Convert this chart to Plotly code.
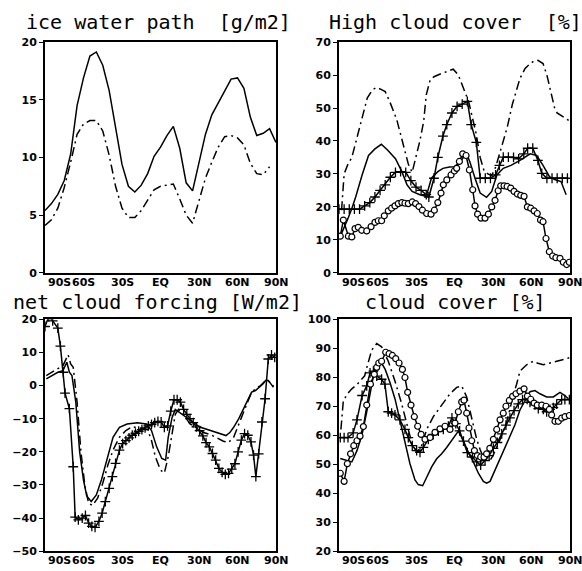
import plotly.graph_objects as go

# ---------------- data ----------------
X_TICKS = [-90, -60, -30, 0, 30, 60, 90]
X_TICK_TEXT = ["90S", "60S", "30S", "EQ", "30N", "60N", "90N"]

# Panel 1: ice water path [g/m2]
IWP_LAT_A = [-90,-85,-80,-75,-70,-65,-60,-55,-50,-45,-40,-35,-30,-25,-20,-15,-10,-5,0,5,10,15,20,25,30,35,40,45,50,55,60,65,70,75,80,85,90]
IWP_SOLID = [5.4,6.0,6.8,8.0,10.3,14.5,16.9,18.8,19.15,18.0,15.8,12.6,9.4,7.5,7.0,7.6,8.6,10.1,10.9,11.9,12.7,10.8,7.8,7.1,9.6,12.0,13.7,14.7,15.7,16.8,16.9,16.0,13.5,11.9,12.1,12.5,11.3]
IWP_LAT_B = [-90,-85,-80,-75,-70,-65,-60,-55,-50,-45,-40,-35,-30,-25,-20,-15,-10,-5,0,5,10,15,20,25,30,35,40,45,50,55,60,65,70,75,80,85]
IWP_DASHDOT = [4.1,4.6,5.6,7.4,9.6,12.0,12.9,13.2,13.2,12.3,10.2,7.5,5.6,4.8,4.8,5.4,6.3,7.2,7.5,7.6,7.7,6.4,5.0,4.3,6.2,8.2,9.6,10.9,11.8,11.9,11.7,11.1,9.5,8.6,8.5,9.2]

# Panel 2: high cloud cover [%]
HCC_LAT_SOLID = [-89,-86,-83,-80,-77,-72,-67,-62,-57,-52,-46,-41,-37,-33,-27,-22,-18,-13,-9,-4,0,4,8,10,12,16,20,25,29,33,38,44,51,59,64,69,74,78,83,87]
HCC_SOLID = [11,13.5,16.5,19.5,23,29.7,35.6,37.6,39,37.2,34.6,30.7,26.7,24.7,23.7,23.2,28.7,30.7,31.7,32.1,32.2,33.5,35.6,35.6,33.6,28.7,24.2,22.9,24.7,29.7,31.7,32.6,34.1,36.1,35.6,32.6,29.2,28.3,27.7,23.7]
HCC_LAT_DASHDOT = [-88,-86,-83,-80,-76,-72,-68,-64,-61,-58,-54,-50,-45,-40,-36,-33,-30,-27,-24,-22,-19,-16,-12,-8,-4,-1,3,7,11,14,17,20,23,26,29,32,36,41,45,51,55,59,62,65,69,72,75,78,80,84,87,90]
HCC_DASHDOT = [19,30,33,35,41,47,53,55.5,56.2,55.8,55,51.5,46.5,39,33,30.5,35,40,46,54,58.5,59.5,60.2,60.8,61.5,61.8,60,56,52,47,42,35,31,30,29.5,32,37,44,51,59,62,63.5,64.3,64.5,63.5,60,55,50,48.5,47.5,46.5,46]
HCC_LAT_PLUS = [-90,-86,-82,-78,-74,-70,-66,-62,-58,-54,-50,-46,-42,-38,-34,-30,-26,-22,-20,-16,-13,-9,-6,-2,2,6,10,13,17,20,24,28,32,35,38,42,46,50,54,57,61,65,68,72,76,80,84,88]
HCC_PLUS = [19.3,19.3,19.3,19.3,19.3,20.3,21.3,23,25,26.7,29,30.5,30.7,30.5,28,26,25,23.7,23,28.7,35,41.5,45,48.5,50.5,51.2,52,45,39.6,28.7,28.7,28.7,29.7,32.6,35.1,35.1,35,34.6,36.1,37.8,37.8,34.1,30.2,28.7,28.7,28.7,28.7,28.7]
HCC_LAT_CIRCLE = [-89,-86.6,-82.7,-80,-77.5,-75,-72.3,-68.4,-65,-62,-59.4,-56.8,-54.7,-51.6,-49,-46.4,-43.8,-41,-38.6,-36,-32.9,-30.3,-27.7,-25,-21.7,-18.3,-15.7,-13,-10.5,-8.7,-6,-2.7,-0.1,1.7,3.8,6.4,9,11.6,14.2,16,18,20.6,23.8,26.4,29,31.6,34,36,38.6,41,43.8,46.4,49,51.6,54.2,56.8,59.4,62,64.5,67,69,71.3,73.9,76.5,79,82.2,84.8,87.4,89.5]
HCC_CIRCLE = [11.1,16,11.1,10.9,13.4,13.8,12.9,12.7,14,15.3,15.8,15.8,17.3,18.8,19.6,20.3,21,21.3,21.1,21,21.5,21,20.1,19,18,17.8,19,21.3,24.2,26.7,28.2,29.7,30.9,31.7,33.8,36.1,35.6,31.2,25.2,20.3,17.8,16.6,16.6,17.8,20,22,24.9,26.4,26.4,26.2,25.7,24.7,23.9,23.5,23.2,20,19.6,18.8,18,16,15.5,10.4,6.4,5.1,4.6,4.4,3.2,2.5,3.2]

# Panel 3: net cloud forcing [W/m2]
NCF_LAT_SOLID = [-89,-85,-80,-76,-73,-71,-69,-66,-63,-60,-57.5,-54,-50,-46,-42,-37,-32,-26,-18,-11,-7,-3,1,4,6,9,11.5,15,20,26,31,36,41,46,51,54,57,61,64,67,71,74,77,80,82,84,86,88]
NCF_SOLID = [2.0,3.0,4.0,4.5,7.0,4.0,3.0,-5,-20,-28.5,-33.3,-35,-33,-28.4,-22.5,-15.6,-12.6,-11.6,-11.2,-11.6,-13.6,-18.5,-22,-22.5,-15.6,-9.7,-7.2,-8.2,-9.7,-11.2,-12.6,-13.2,-13.8,-14.6,-15.1,-14.2,-12.6,-10,-7.5,-5.2,-2,-1.5,-0.5,0.5,1.6,1.5,0.5,-0.5]
NCF_LAT_DASHDOT = [-89,-85,-80,-76,-72,-70,-68,-65,-62,-59,-56,-53,-49,-45,-41,-37,-32,-27,-22,-18,-14,-10,-7,-4,0,3,6,9,11.5,14,18,23,28,33,39,44,49,53,57,62,67,71,74,78,81,83,86,88]
NCF_DASHDOT = [3.0,4.0,5.0,6.0,9.3,6.5,5.5,-5,-20,-30,-35.5,-36.2,-34,-29.5,-24,-19.5,-15.6,-13.6,-12.4,-12.8,-13.1,-13.3,-16.6,-21.5,-25.5,-26.4,-21.5,-14.6,-8.7,-7.2,-8.7,-11.6,-12.6,-14.1,-14.8,-15.8,-16.8,-17.2,-15.6,-10.7,-5.7,-2.0,-1.0,0.0,1.2,1.6,0.8,-0.2]
NCF_LAT_PLUS = [-90,-87,-84,-80,-78,-75.7,-74.4,-71,-68,-66.5,-64,-61,-58.5,-56,-53.5,-51,-48,-45.5,-43,-40,-37.5,-35,-32,-29.5,-27,-24.5,-22,-19.5,-17,-14.5,-12,-9.5,-7,-4.5,-2,0.5,3,5.5,8,10.5,13,15.5,18,20.5,23,25.5,28,30.5,33,35.5,38,40.5,43,45.5,48,50.5,53,55.5,58,60.5,63,65.5,68,70.5,72.5,74.3,76.5,79,81.5,84,86.5,89]
NCF_PLUS = [17.8,20.8,19.5,17.3,11.9,4,-2.3,-7,-24.5,-39.7,-40.5,-40,-39.2,-41.5,-42.5,-42.8,-41,-38.5,-35,-31,-27.5,-23.5,-19.5,-17.5,-16.6,-15.8,-15,-14.4,-13.8,-13.3,-12.8,-12.2,-11.7,-11.2,-10.8,-11,-12.6,-12.2,-7.7,-4.3,-4.3,-5,-7.2,-8.7,-10,-11.2,-12.5,-13.6,-15.2,-17.2,-18.5,-20.5,-22.5,-25,-26.2,-26.8,-26.5,-25.2,-23.6,-20,-16.5,-14.5,-15,-17,-21,-27.5,-20.6,-11,-4,8,9.2,8.5]

# Panel 4: cloud cover [%]
CC_LAT_SOLID = [-89,-85,-80,-76,-72,-68.4,-64.5,-62,-59.4,-56.8,-54,-50.3,-46.4,-42.5,-38.6,-34.7,-30.8,-28.2,-24.8,-21.7,-17.8,-13.9,-10,-6.1,-0.9,3,6.9,10.8,14.7,18.6,22.5,25,27.7,31.6,35.5,39.4,43.2,47.1,51,55,58.8,62.7,66.6,71.8,77,82.2,86,88.7]
CC_SOLID = [52,51.5,50.8,54.7,60.3,68.1,78.2,83.2,84.9,84.9,82.7,78.2,72.6,64.8,56.9,50.2,44.6,43,42.6,45.7,49.1,51.9,53.6,55.8,59.2,61.4,58.1,54.1,50.8,46.9,44.1,43.5,44.1,48,51.9,55.3,59.2,63.6,68.7,72,75,75.4,74.3,73.2,73.2,74.8,73.7,72.6]
CC_LAT_DASHDOT = [-88.5,-86.6,-83,-80,-76,-73.6,-70,-68.4,-64.5,-60.6,-56.8,-51.6,-46.4,-41.2,-37.3,-33.4,-29.5,-25.6,-21.7,-16.5,-10,-3.5,1.7,5.6,9.5,13.4,17.3,20,22.5,25,27.7,30,32.9,35.5,38,40.6,43.2,45.5,48.4,51,56.2,61.4,65,69.2,74.4,79.6,84,87.4,90]
CC_DASHDOT = [62,72,74.5,76,77.5,78.7,80.5,83.2,89.4,91.6,90.5,85.5,78.7,70.9,64.2,57.5,54.1,56.4,62,66.4,70.4,74.3,76.5,77,73.2,66.4,58.6,55,52.5,51.5,51.3,53,55.8,58.5,61.4,64.5,69,73.5,77.6,82.1,84.3,85.5,84.8,84.3,84.9,85.5,85.8,86.4,86.8]
CC_LAT_PLUS = [-89,-86,-83,-79,-76,-72,-68.4,-65.8,-63.2,-60.6,-56.8,-54.2,-51.6,-49,-46.4,-42.5,-38.6,-36,-32.9,-29.5,-26.9,-24.3,-20.4,-16.5,-12.6,-8.7,-4.8,-2,1,4,7,10,14,17.3,20.4,23.8,27,30.3,33.4,36.8,40.1,43.2,46.4,49.7,53,56.6,58.8,62.7,65.3,69.2,71.8,74.4,77,79.6,83.5,86,89.5]
CC_PLUS = [59.2,59.2,59.2,60.8,65.3,73.7,77,81.5,82.1,80.4,79.3,77.6,68.1,67.6,67,65.3,62,59.2,56.4,54.7,54.1,55.8,58.6,60.3,61.4,62,63.1,66,64,61.5,58,54,52.5,50.8,49.7,51.3,53,55.5,57.5,60.5,63.5,66,68.5,70.8,72.3,72.4,71.3,70.5,69.2,68.9,68.1,68.9,69.5,70.7,72.3,72.3,72.3]
CC_LAT_CIRCLE = [-89,-86,-83.5,-81,-78.5,-76,-73.6,-71,-68.4,-65.5,-62.5,-60.6,-59,-56.8,-53.6,-51,-48.4,-45.8,-43.2,-40.6,-38.6,-36.5,-33.9,-31.3,-28.7,-26,-23,-19,-15.2,-11.3,-7.4,-3.5,0.4,3,5.6,7.4,9.5,11.3,13.4,15.5,17.8,20.4,23,25,27.5,30.3,32.9,35.5,38,40.1,42.7,45.3,47.9,51,54.2,56.8,59.4,62,64.5,68,71.3,73.9,75.7,78.3,80.9,83.5,86.1,89.5]
CC_CIRCLE = [46.9,44.1,50.2,53.6,56.4,58.1,59.7,63,70.4,77.6,81,83.4,84.9,85.5,88.6,88.1,87.5,86.4,84.9,82.7,79.9,74.8,70.4,66.4,63.1,60.3,58.6,59.2,61,62.2,63.1,62,64.2,68.1,71.5,72.1,67.6,62.5,58.1,54.7,53,52.5,52.5,53.6,55.5,58.6,62,65.3,67.6,70,72,73.4,74.3,75.2,76,73.5,72.4,71.1,70.4,70.4,70,68.9,67,64.8,64.8,65.9,66.4,66.8]

TITLES = ["ice water path  [g/m2]", "High cloud cover  [%]", "net cloud forcing [W/m2]", "cloud cover [%]"]
Y_RANGES = [(0, 20), (0, 70), (-50, 20), (20, 100)]
Y_DTICKS = [5, 10, 10, 10]

# ---------------- layout geometry ----------------
W, H = 582, 571
XDOM = [(45 / W, 276 / W), (339 / W, 570 / W), (45 / W, 276 / W), (339 / W, 570 / W)]
YDOM = [(1 - 273 / H, 1 - 37 / H), (1 - 273 / H, 1 - 37 / H),
        (1 - 558 / H, 1 - 320.5 / H), (1 - 558 / H, 1 - 320.5 / H)]
TITLE_POS = [(159, 16), (455, 16), (157, 303), (455, 303)]

DASHDOT = "9px,4px,2px,4px"
LW = 1.5

fig = go.Figure()

def axname(i, kind):
    return kind if i == 0 else f"{kind}{i + 1}"

def add_line(i, x, y, dash="solid", marker=None):
    kw = dict(x=x, y=y, xaxis=axname(i, "x"), yaxis=axname(i, "y"),
              showlegend=False, hoverinfo="skip",
              line=dict(color="black", width=LW, dash=dash))
    if marker == "plus":
        kw["mode"] = "lines+markers"
        kw["marker"] = dict(symbol="cross-thin", size=7, color="black",
                            line=dict(color="black", width=1.3))
    elif marker == "circle":
        kw["mode"] = "lines+markers"
        kw["marker"] = dict(symbol="circle", size=6, color="white",
                            line=dict(color="black", width=1.2))
    else:
        kw["mode"] = "lines"
    fig.add_trace(go.Scatter(**kw))

# panel 1
add_line(0, IWP_LAT_A, IWP_SOLID)
add_line(0, IWP_LAT_B, IWP_DASHDOT, dash=DASHDOT)
# panel 2
add_line(1, HCC_LAT_DASHDOT, HCC_DASHDOT, dash=DASHDOT)
add_line(1, HCC_LAT_SOLID, HCC_SOLID)
add_line(1, HCC_LAT_PLUS, HCC_PLUS, marker="plus")
add_line(1, HCC_LAT_CIRCLE, HCC_CIRCLE, marker="circle")
# panel 3
add_line(2, NCF_LAT_DASHDOT, NCF_DASHDOT, dash=DASHDOT)
add_line(2, NCF_LAT_SOLID, NCF_SOLID)
add_line(2, NCF_LAT_PLUS, NCF_PLUS, marker="plus")
# panel 4
add_line(3, CC_LAT_DASHDOT, CC_DASHDOT, dash=DASHDOT)
add_line(3, CC_LAT_SOLID, CC_SOLID)
add_line(3, CC_LAT_PLUS, CC_PLUS, marker="plus")
add_line(3, CC_LAT_CIRCLE, CC_CIRCLE, marker="circle")

tickfont = dict(family="DejaVu Sans", size=11, color="black", weight="bold")
layout = dict(width=W, height=H, margin=dict(l=0, r=0, t=0, b=0),
              paper_bgcolor="white", plot_bgcolor="white", showlegend=False)
annotations = []
for i in range(4):
    xa = "xaxis" if i == 0 else f"xaxis{i + 1}"
    ya = "yaxis" if i == 0 else f"yaxis{i + 1}"
    layout[xa] = dict(domain=list(XDOM[i]), range=[-90, 90], anchor=axname(i, "y"),
                      tickmode="array", tickvals=X_TICKS, showticklabels=False,
                      showline=True, linecolor="black", linewidth=2, mirror=True,
                      showgrid=False, zeroline=False, ticks="")
    y0, y1 = Y_RANGES[i]
    layout[ya] = dict(domain=list(YDOM[i]), range=[y0, y1], anchor=axname(i, "x"),
                      tick0=y0, dtick=Y_DTICKS[i],
                      showline=True, linecolor="black", linewidth=2, mirror=True,
                      showgrid=False, zeroline=False, ticks="outside", ticklen=4,
                      tickcolor="black", tickfont=tickfont)
    # x tick labels, hugging the bottom axis; the first one flush with the left edge
    for k, (xv, xt) in enumerate(zip(X_TICKS, X_TICK_TEXT)):
        annotations.append(dict(text=xt, x=xv, xref=axname(i, "x"),
                                y=0, yref=f"{axname(i, 'y')} domain",
                                xanchor="left" if k == 0 else "center",
                                xshift=1 if k == 0 else 0,
                                yanchor="top", yshift=-1, showarrow=False, font=tickfont))
    tx, ty = TITLE_POS[i]
    annotations.append(dict(text=TITLES[i], x=tx / W, y=1 - ty / H, xref="paper", yref="paper",
                            xanchor="center", yanchor="middle", showarrow=False,
                            font=dict(family="DejaVu Sans Mono", size=20, color="black")))
layout["annotations"] = annotations
fig.update_layout(**layout)
fig.write_html("out.html", config={"displayModeBar": False},
               post_script="document.body.style.margin='0';document.body.style.overflow='hidden';")
